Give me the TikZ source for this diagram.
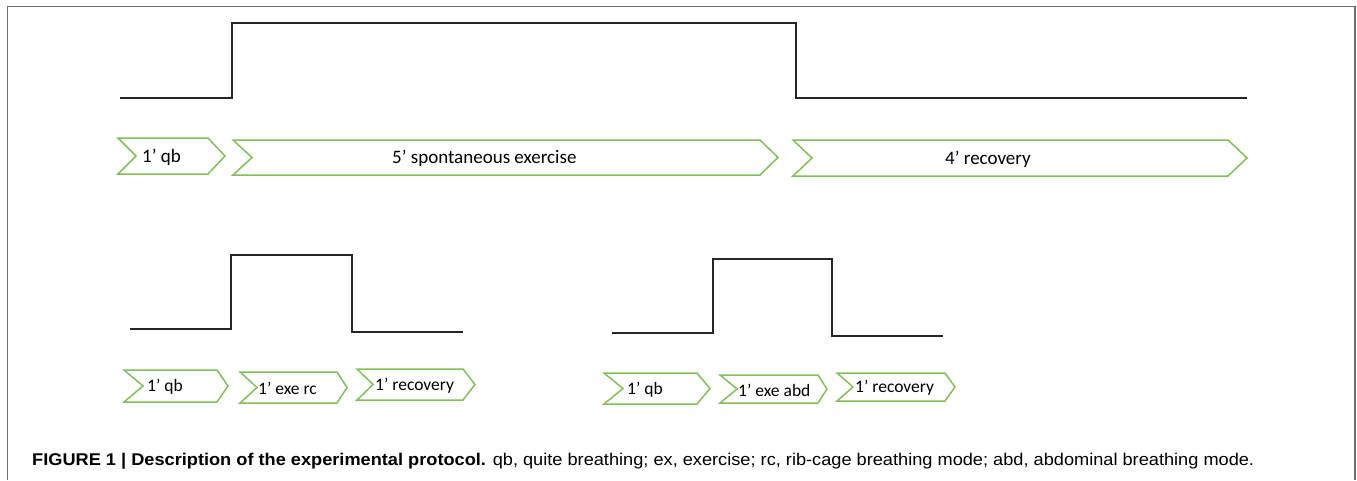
\documentclass[tikz,border=0pt]{standalone}
\usepackage{fontspec}
\setmainfont{Carlito}
\newfontfamily\capfont{Liberation Sans}
\definecolor{chevgreen}{RGB}{130,190,90}
\definecolor{framegray}{RGB}{110,110,110}
\tikzset{
  chev/.style={draw=chevgreen, line width=1.5pt, line join=miter, fill=white},
  lab/.style={inner sep=0pt, anchor=west},
  biglab/.style={lab, font=\fontsize{19}{21}\selectfont},
  smalllab/.style={lab, font=\fontsize{17.5}{19}\selectfont},
  wave/.style={draw=black!85, line width=2pt, line join=miter},
  frame/.style={draw=framegray, line width=1.5pt}
}
% #1 name, #2 left, #3 notch, #4 body end, #5 tip, #6 top, #7 bottom, #8 text start x, #9 label style
\newcommand{\chevron}[9]{%
  \draw[chev] (#2,#6) -- (#4,#6) -- (#5,{(#6+#7)/2}) -- (#4,#7) -- (#2,#7) -- (#3,{(#6+#7)/2}) -- cycle;
  \node[#9] (#1) at (#8,{(#6+#7)/2+1}) {\chevtext};
}
\begin{document}
\begin{tikzpicture}[x=1pt,y=-1pt]
\useasboundingbox (0,0) rectangle (1357,480);
% frame
\draw[frame] (7.5,480) -- (7.5,6.5) -- (1355,6.5) -- (1355,480);
% top waveform
\draw[wave] (120,98) -- (232,98) -- (232,23) -- (796,23) -- (796,98) -- (1247,98);
% top chevrons
\def\chevtext{1’ qb}\chevron{t1}{118}{136}{208}{225}{138}{174}{142}{biglab}
\def\chevtext{5’ spontaneous exercise}\chevron{t2}{233}{252}{760}{778}{140}{175}{392}{biglab}
\def\chevtext{4’ recovery}\chevron{t3}{793}{812}{1228}{1247}{140}{176}{945}{biglab}
% bottom-left waveform
\draw[wave] (130,329) -- (231,329) -- (231,255) -- (352,255) -- (352,332) -- (463,332);
% bottom-right waveform
\draw[wave] (612,333) -- (713,333) -- (713,259) -- (832,259) -- (832,336) -- (943,336);
% bottom-left chevrons
\def\chevtext{1’ qb}\chevron{a1}{124}{143}{217}{228}{370}{402}{147}{smalllab}
\def\chevtext{1’ exe rc}\chevron{a2}{240}{257}{337}{347}{372}{403}{258}{smalllab}
\def\chevtext{1’ recovery}\chevron{a3}{357}{373}{463}{475}{369}{400}{375}{smalllab}
% bottom-right chevrons
\def\chevtext{1’ qb}\chevron{b1}{604}{623}{697}{710}{373}{404}{627}{smalllab}
\def\chevtext{1’ exe abd}\chevron{b2}{720}{737}{818}{827}{375}{403}{738}{smalllab}
\def\chevtext{1’ recovery}\chevron{b3}{837}{853}{945}{955}{373}{401}{855}{smalllab}
% caption
\node[anchor=base west, inner sep=0pt, font=\capfont\fontsize{17}{19}\selectfont] (cap) at (32,465)
  {\scalebox{1.07}[1]{\textbf{FIGURE 1 | Description of the experimental protocol.} qb, quite breathing; ex, exercise; rc, rib-cage breathing mode; abd, abdominal breathing mode.}};
\end{tikzpicture}
\end{document}
